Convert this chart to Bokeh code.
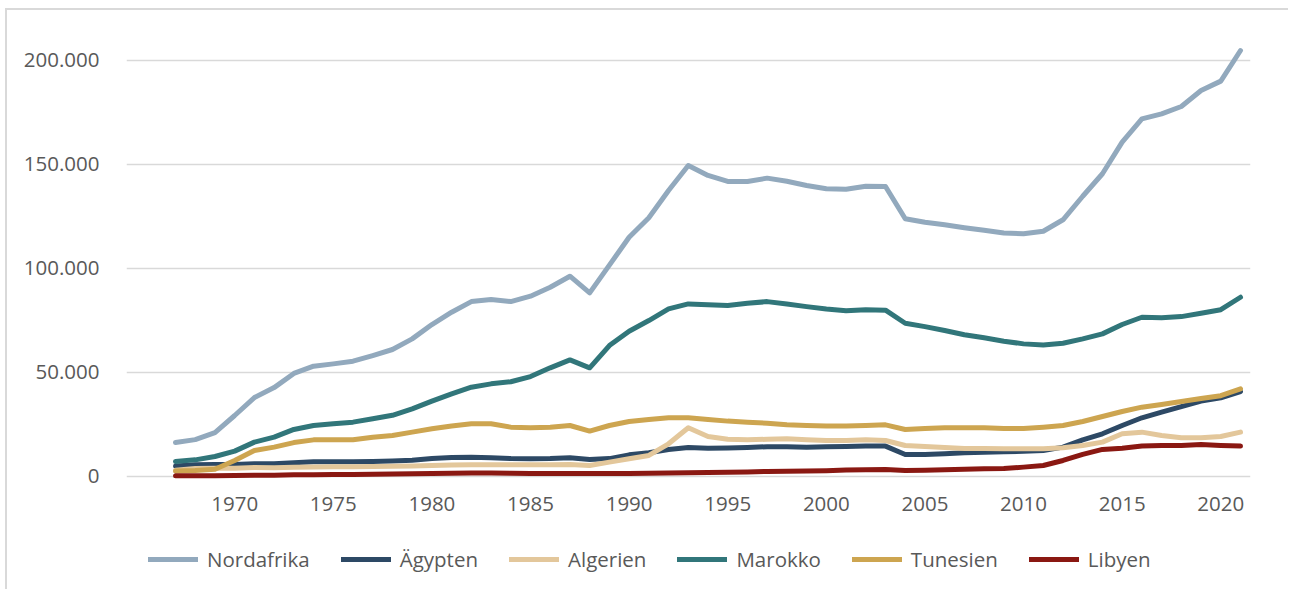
from bokeh.plotting import figure
from bokeh.models import ColumnDataSource, FixedTicker, Legend, LegendItem, Range1d
from bokeh.embed import file_html
from bokeh.resources import INLINE

years = list(range(1967, 2022))

nordafrika = [16300, 17700, 21100,
              29300, 37900, 42700, 49500, 53000, 54100, 55400, 58100, 61000, 66100,
              73000, 78900, 84000, 85000, 84000, 86600, 90900, 96200, 88200, 101500,
              114900, 124300, 137400, 149400, 144600, 141700, 141700, 143300, 141800, 139800,
              138200, 138000, 139400, 139300, 123800, 122100, 120900, 119500, 118300, 117000,
              116600, 117800, 123300, 134600, 145400, 160600, 171800, 174200, 177700, 185400,
              189900, 204600]
aegypten = [5000, 5600, 5800,
            5800, 6100, 6100, 6600, 7100, 7100, 7100, 7200, 7500, 7800,
            8600, 9100, 9300, 9000, 8600, 8500, 8600, 9000, 8200, 8600,
            10400, 11400, 13000, 13900, 13600, 13700, 13900, 14300, 14300, 14100,
            14300, 14400, 14700, 14600, 10600, 10600, 10900, 11400, 11700, 11900,
            12100, 12500, 14100, 17600, 20500, 24500, 28200, 30900, 33600, 36200,
            37800, 40800]
algerien = [3000, 3800, 4000,
            4000, 4300, 4200, 4500, 4600, 4700, 4700, 4800, 4900, 5000,
            5300, 5500, 5600, 5600, 5600, 5600, 5700, 5800, 5300, 6900,
            8500, 10100, 15700, 23400, 19200, 17900, 17600, 17900, 18100, 17600,
            17300, 17300, 17600, 17300, 14900, 14400, 13900, 13500, 13400, 13300,
            13300, 13300, 13800, 14900, 16500, 20500, 21300, 19700, 18600, 18600,
            19200, 21300]
marokko = [7200, 8000, 9600,
           12200, 16500, 18900, 22600, 24500, 25300, 26100, 27700, 29400, 32500,
           36200, 39700, 42900, 44500, 45500, 48000, 52200, 56000, 52200, 62900,
           69800, 74900, 80500, 82900, 82500, 82100, 83200, 84000, 82900, 81600,
           80400, 79600, 80100, 79900, 73600, 72000, 70100, 68100, 66600, 65000,
           63700, 63200, 64000, 66100, 68500, 73000, 76500, 76200, 76800, 78400,
           80100, 86100]
tunesien = [2600, 2900, 3500,
            7700, 12500, 14100, 16300, 17600, 17600, 17700, 18900, 19700, 21300,
            22900, 24300, 25300, 25300, 23700, 23400, 23700, 24500, 21800, 24500,
            26400, 27400, 28200, 28200, 27400, 26600, 26100, 25600, 24800, 24500,
            24300, 24300, 24500, 24800, 22600, 23100, 23400, 23400, 23400, 23100,
            23100, 23700, 24500, 26400, 28800, 31200, 33300, 34600, 36000, 37500,
            38800, 42100]
libyen = [300, 400, 400,
          500, 600, 600, 800, 900, 1000, 1000, 1100, 1200, 1300,
          1400, 1600, 1700, 1700, 1600, 1500, 1400, 1500, 1400, 1400,
          1500, 1600, 1700, 1800, 1900, 2000, 2200, 2400, 2500, 2700,
          2800, 3100, 3300, 3400, 2900, 3000, 3300, 3500, 3700, 3800,
          4500, 5300, 7700, 10600, 13000, 13600, 14600, 14900, 14900, 15400,
          14900, 14600]

series_names = ["Nordafrika", "Ägypten", "Algerien", "Marokko", "Tunesien", "Libyen"]
series_values = [nordafrika, aegypten, algerien, marokko, tunesien, libyen]
series_colors = ["#92A9BD", "#2D4965", "#E3C79B", "#31767A", "#CDA550", "#8A1812"]

x_ticks = [1970, 1975, 1980, 1985, 1990, 1995, 2000, 2005, 2010, 2015, 2020]
y_ticks = [0, 50000, 100000, 150000, 200000]
y_tick_labels = ["0", "50.000", "100.000", "150.000", "200.000"]

FONT = "Open Sans"
FSIZE = "20.5px"
TCOLOR = "#595959"

p = figure(width=1283, height=581, output_backend="svg", toolbar_location=None,
           x_range=Range1d(1964.515, 2021.507), y_range=Range1d(-55235, 212293),
           min_border_left=119, min_border_right=40, min_border_top=24, min_border_bottom=0)
p.outline_line_color = None
p.background_fill_color = "white"
p.border_fill_color = "white"
p.styles = {"border-top": "2px solid #d9d9d9", "border-left": "2px solid #d9d9d9",
            "margin-left": "5px", "margin-top": "8px"}

src = ColumnDataSource(dict(year=years, **{f"s{i}": v for i, v in enumerate(series_values)}))

items = []
for i, (name, col) in enumerate(zip(series_names, series_colors)):
    r = p.line("year", f"s{i}", source=src, line_color=col, line_width=5,
               line_cap="round", line_join="round")
    items.append(LegendItem(label=name, renderers=[r]))

p.xgrid.grid_line_color = None
p.ygrid.ticker = FixedTicker(ticks=y_ticks)
p.ygrid.grid_line_color = "#d9d9d9"
p.ygrid.grid_line_width = 1.5

p.xaxis.ticker = FixedTicker(ticks=x_ticks)
p.xaxis.fixed_location = 0
p.yaxis.ticker = FixedTicker(ticks=y_ticks)
p.yaxis.major_label_overrides = {t: l for t, l in zip(y_ticks, y_tick_labels)}
for ax in (p.xaxis[0], p.yaxis[0]):
    ax.axis_line_color = None
    ax.major_tick_line_color = None
    ax.minor_tick_line_color = None
    ax.major_tick_out = 0
    ax.major_tick_in = 0
    ax.major_label_text_font = FONT
    ax.major_label_text_font_size = FSIZE
    ax.major_label_text_color = TCOLOR
p.yaxis.major_label_standoff = 27
p.xaxis.major_label_standoff = 21

legend = Legend(items=items, orientation="horizontal", location=(22, 18),
                glyph_width=50, glyph_height=20, label_standoff=9, spacing=31,
                padding=0, margin=0, border_line_color=None, background_fill_alpha=0,
                label_text_font=FONT, label_text_font_size=FSIZE, label_text_color=TCOLOR)
p.add_layout(legend, "center")

open("out.html", "w").write(file_html(p, INLINE))
